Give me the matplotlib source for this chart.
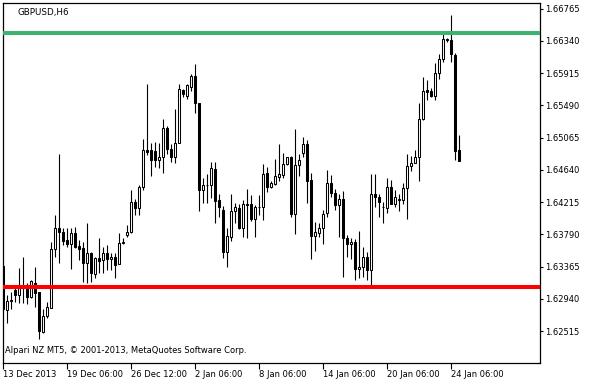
import numpy as np
import matplotlib.pyplot as plt

# GBPUSD H6 bars, 13 Dec 2013 .. 24 Jan 2014
opens = [1.63371, 1.62791, 1.62914, 1.63055, 1.62989, 1.63081, 1.63085, 1.62967, 1.63150, 1.63025,
         1.62506, 1.62716, 1.62822, 1.63591, 1.63868, 1.63823, 1.63713, 1.63669, 1.63801, 1.63634,
         1.63604, 1.63406, 1.63546, 1.63265, 1.63472, 1.63450, 1.63538, 1.63459, 1.63485, 1.63397,
         1.63678, 1.63779, 1.63823, 1.64218, 1.64131, 1.64415, 1.64908, 1.64899, 1.64886, 1.64776,
         1.64803, 1.65198, 1.64921, 1.64811, 1.64994, 1.65698, 1.65610, 1.65732, 1.65873, 1.65527,
         1.64372, 1.64434, 1.64434, 1.64649, 1.64240, 1.64108, 1.63559, 1.63757, 1.64099, 1.64134,
         1.63868, 1.64196, 1.64187, 1.63993, 1.64152, 1.64152, 1.64592, 1.64415, 1.64451, 1.64547,
         1.64569, 1.64714, 1.64803, 1.64056, 1.64701, 1.64857, 1.64982, 1.64503, 1.63770, 1.63809,
         1.63868, 1.64065, 1.64468, 1.64336, 1.64183, 1.64262, 1.63736, 1.63669, 1.63691, 1.63327,
         1.63354, 1.63493, 1.63318, 1.64319, 1.64276, 1.64144, 1.64131, 1.64415, 1.64196, 1.64253,
         1.64249, 1.64407, 1.64688, 1.64731, 1.64803, 1.65316, 1.65689, 1.65680, 1.65614, 1.65922,
         1.66106, 1.66370, 1.66347, 1.66150, 1.64899]
highs = [1.63384, 1.62989, 1.63033, 1.63098, 1.63344, 1.63490, 1.63150, 1.63186, 1.63358, 1.63029,
         1.62800, 1.62901, 1.63691, 1.64043, 1.64846, 1.63868, 1.63868, 1.63868, 1.63889, 1.63713,
         1.63691, 1.63933, 1.63559, 1.63493, 1.63736, 1.63625, 1.63648, 1.63538, 1.63538, 1.63801,
         1.63744, 1.63911, 1.64372, 1.64262, 1.64438, 1.65040, 1.65777, 1.64994, 1.65004, 1.64994,
         1.65316, 1.65215, 1.64978, 1.65447, 1.65777, 1.65711, 1.65777, 1.65909, 1.66031, 1.65527,
         1.64526, 1.64583, 1.64745, 1.64745, 1.64328, 1.64161, 1.63868, 1.64328, 1.64204, 1.64187,
         1.64249, 1.64381, 1.64306, 1.64174, 1.64306, 1.64715, 1.64671, 1.64494, 1.64789, 1.64978,
         1.64868, 1.64811, 1.64820, 1.65175, 1.64846, 1.65078, 1.65030, 1.64596, 1.63955, 1.63933,
         1.64117, 1.64635, 1.64569, 1.64394, 1.64319, 1.64363, 1.63779, 1.63736, 1.63723, 1.63832,
         1.63625, 1.63559, 1.64583, 1.64583, 1.64328, 1.64218, 1.64526, 1.64503, 1.64372, 1.64319,
         1.64468, 1.64846, 1.64820, 1.64899, 1.65522, 1.65864, 1.65820, 1.65724, 1.66048, 1.66172,
         1.66426, 1.66383, 1.66676, 1.66180, 1.65096]
lows = [1.62791, 1.62620, 1.62800, 1.62901, 1.62883, 1.62888, 1.62875, 1.62949, 1.62831, 1.62405,
        1.62493, 1.62682, 1.62818, 1.63493, 1.63414, 1.63648, 1.63617, 1.63327, 1.63604, 1.63450,
        1.63164, 1.63150, 1.63164, 1.63208, 1.63274, 1.63282, 1.63318, 1.63318, 1.63208, 1.63397,
        1.63661, 1.63757, 1.63801, 1.64043, 1.64043, 1.64372, 1.64833, 1.64556, 1.64675, 1.64670,
        1.64592, 1.64855, 1.64744, 1.64731, 1.64994, 1.65601, 1.65574, 1.65680, 1.65390, 1.64099,
        1.64204, 1.64204, 1.64275, 1.63941, 1.64012, 1.63472, 1.63362, 1.63704, 1.63933, 1.63854,
        1.63757, 1.63736, 1.63967, 1.63757, 1.64043, 1.63977, 1.64350, 1.64402, 1.64438, 1.64494,
        1.64526, 1.64701, 1.64012, 1.63792, 1.64556, 1.64803, 1.64204, 1.63459, 1.63573, 1.63757,
        1.63669, 1.64012, 1.64284, 1.64117, 1.63757, 1.63221, 1.63493, 1.63459, 1.63186, 1.63208,
        1.63221, 1.63186, 1.63081, 1.64152, 1.64020, 1.63941, 1.64073, 1.64187, 1.64152, 1.64099,
        1.64187, 1.63986, 1.64626, 1.64724, 1.64494, 1.65303, 1.65566, 1.65601, 1.65566, 1.65843,
        1.66061, 1.66325, 1.66061, 1.64776, 1.64758]
closes = [1.62804, 1.62914, 1.62923, 1.62989, 1.63081, 1.63094, 1.62959, 1.63173, 1.63019, 1.62519,
          1.62716, 1.62827, 1.63591, 1.63868, 1.63823, 1.63704, 1.63669, 1.63801, 1.63625, 1.63599,
          1.63406, 1.63546, 1.63274, 1.63472, 1.63441, 1.63538, 1.63459, 1.63485, 1.63384, 1.63678,
          1.63683, 1.63823, 1.64218, 1.64131, 1.64415, 1.64908, 1.64876, 1.64776, 1.64776, 1.64803,
          1.65198, 1.64921, 1.64811, 1.64994, 1.65711, 1.65645, 1.65755, 1.65873, 1.65522, 1.64372,
          1.64434, 1.64438, 1.64658, 1.64231, 1.64144, 1.63559, 1.63766, 1.64095, 1.64148, 1.63868,
          1.64196, 1.64174, 1.63993, 1.64152, 1.64154, 1.64583, 1.64415, 1.64460, 1.64556, 1.64583,
          1.64723, 1.64803, 1.64056, 1.64701, 1.64776, 1.64982, 1.64494, 1.63766, 1.63815, 1.63868,
          1.64056, 1.64468, 1.64336, 1.64183, 1.64262, 1.63736, 1.63669, 1.63691, 1.63327, 1.63354,
          1.63493, 1.63318, 1.64319, 1.64276, 1.64218, 1.64148, 1.64415, 1.64196, 1.64276, 1.64249,
          1.64407, 1.64688, 1.64731, 1.64803, 1.65316, 1.65680, 1.65672, 1.65614, 1.65922, 1.66106,
          1.66370, 1.66347, 1.66163, 1.64889, 1.64758]

date_ticks = [0, 16, 32, 48, 64, 80, 96, 112]
date_labels = ["13 Dec 2013", "19 Dec 06:00", "26 Dec 12:00", "2 Jan 06:00",
               "8 Jan 06:00", "14 Jan 06:00", "20 Jan 06:00", "24 Jan 06:00"]
price_ticks = [1.62515, 1.62940, 1.63365, 1.63790, 1.64215, 1.64640,
               1.65065, 1.65490, 1.65915, 1.66340, 1.66765]

upper_level = 1.66438
lower_level = 1.63096

plt.rcParams['font.family'] = ['DejaVu Sans']

fig = plt.figure(figsize=(5.89, 3.80), dpi=100)
ax = fig.add_axes([3 / 589, 17 / 380, 537 / 589, 360 / 380])

o = np.array(opens)
h = np.array(highs)
l = np.array(lows)
c = np.array(closes)
x = np.arange(len(o))
up = c >= o

# wicks then bodies
ax.vlines(x, l, h, color="black", linewidth=0.8, zorder=2)
body = np.where(np.abs(c - o) < 1e-6, 1e-6, c - o)
ax.bar(x, body, bottom=o, width=0.5,
       color=np.where(up, "white", "black"), edgecolor="black",
       linewidth=0.75, zorder=3)

ax.axhline(upper_level, color="#3cb371", linewidth=2.9, zorder=4)
ax.axhline(lower_level, color="#ff0000", linewidth=2.9, zorder=4)

ax.set_xlim(-0.05, 134.2)
ax.set_ylim(1.62094, 1.66839)

ax.yaxis.tick_right()
ax.set_yticks(price_ticks)
ax.set_yticklabels([f"{p:.5f}" for p in price_ticks])
ax.set_xticks(date_ticks)
ax.set_xticklabels(date_labels, ha="left")
ax.tick_params(axis="y", direction="out", length=2.5, width=0.8, pad=1.5,
               labelsize=6.0, colors="black")
ax.tick_params(axis="x", direction="out", length=4, width=0.8, pad=1,
               labelsize=6.0, colors="black")

for s in ax.spines.values():
    s.set_linewidth(0.9)
    s.set_color("black")

ax.text(0.027, 0.985, "GBPUSD,H6", transform=ax.transAxes,
        fontsize=6.3, va="top", ha="left")
ax.text(0.004, 0.035, "Alpari NZ MT5, \u00a9 2001-2013, MetaQuotes Software Corp.",
        transform=ax.transAxes, fontsize=6.0, va="center", ha="left")

fig.savefig("out.png", dpi=100, facecolor="white")
